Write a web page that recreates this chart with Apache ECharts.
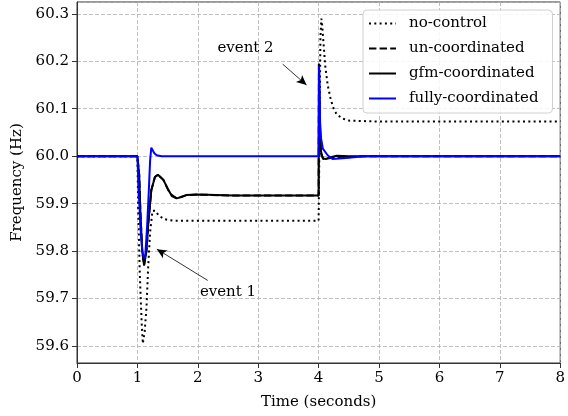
<!DOCTYPE html>
<html>
<head>
<meta charset="utf-8">
<script src="https://cdn.jsdelivr.net/npm/echarts@6/dist/echarts.min.js"></script>
<style>
  html, body { margin: 0; padding: 0; background: #fff; }
  #chart { width: 568px; height: 416px; }
</style>
</head>
<body>
<div id="chart"></div>
<script>
// time (s), frequency (Hz)
var noControl = [
  [0, 60], [1.0, 60], [1.013, 59.89], [1.04, 59.75], [1.07, 59.65], [1.09, 59.605],
  [1.12, 59.63], [1.15, 59.68], [1.18, 59.77], [1.21, 59.84], [1.25, 59.885],
  [1.3, 59.885], [1.35, 59.875], [1.45, 59.867], [1.6, 59.864], [2, 59.864],
  [3, 59.864], [4.0, 59.864], [4.01, 59.98], [4.02, 60.13], [4.03, 60.25],
  [4.045, 60.29], [4.06, 60.275], [4.08, 60.24], [4.11, 60.19], [4.15, 60.15],
  [4.2, 60.12], [4.25, 60.1], [4.3, 60.088], [4.4, 60.079], [4.5, 60.075],
  [5, 60.073], [8, 60.073]
]
var unCoordinated = [
  [0, 60], [1.0, 60], [1.03, 59.96], [1.05, 59.88], [1.08, 59.8], [1.11, 59.77],
  [1.125, 59.766], [1.15, 59.8], [1.18, 59.858], [1.23, 59.928], [1.29, 59.956],
  [1.34, 59.961], [1.43, 59.95], [1.54, 59.921], [1.65, 59.911], [1.81, 59.918],
  [2.0, 59.919], [2.6, 59.917], [4.0, 59.917], [4.005, 60.195], [4.02, 60.06],
  [4.04, 60.005], [4.08, 59.994], [4.2, 59.996], [4.4, 59.997], [4.6, 59.999],
  [4.8, 60], [8, 60]
]
var gfmCoordinated = [
  [0, 60], [1.0, 60], [1.03, 59.96], [1.05, 59.88], [1.08, 59.8], [1.11, 59.77],
  [1.125, 59.766], [1.15, 59.8], [1.18, 59.858], [1.23, 59.928], [1.29, 59.956],
  [1.34, 59.961], [1.43, 59.95], [1.5, 59.932], [1.57, 59.916], [1.65, 59.911],
  [1.73, 59.914], [1.81, 59.918], [2.0, 59.919], [2.6, 59.917], [4.0, 59.917],
  [4.005, 60.195], [4.02, 60.07], [4.04, 60.01], [4.07, 59.995], [4.12, 59.994],
  [4.2, 59.998], [4.3, 60.001], [4.5, 60], [8, 60]
]
var fullyCoordinated = [
  [0, 60], [1.0, 60], [1.02, 59.93], [1.05, 59.85], [1.08, 59.8], [1.11, 59.785],
  [1.13, 59.79], [1.16, 59.85], [1.19, 59.93], [1.21, 59.99], [1.23, 60.018],
  [1.25, 60.015], [1.28, 60.006], [1.32, 60.002], [1.4, 60], [4.0, 60],
  [4.008, 60.19], [4.025, 60.07], [4.04, 60.038], [4.07, 60.016], [4.15, 60.002],
  [4.23, 59.994], [4.45, 59.996], [4.75, 60], [8, 60]
]
var xTicks = [0, 1, 2, 3, 4, 5, 6, 7, 8]
var yRange = [59.564, 60.325]

// annotations: [label, text position, arrow start, arrow tip]
var events = [
  ['event 1', [2.5, 59.713], [2.165, 59.738], [1.322, 59.804]],
  ['event 2', [2.79, 60.228], [3.405, 60.194], [3.8, 60.15]]
]

var serif = 'DejaVu Serif'
var chart = echarts.init(document.getElementById('chart'))

function lineSeries(name, data, color, type, z) {
  return {
    name: name,
    type: 'line',
    data: data,
    symbol: 'none',
    z: z,
    lineStyle: { color: color, width: 2, type: type },
    itemStyle: { color: color },
    animation: false
  }
}

var series = [
  lineSeries('no-control', noControl, '#000', [2, 3.3], 2),
  lineSeries('un-coordinated', unCoordinated, '#000', [7.4, 3.2], 3),
  lineSeries('gfm-coordinated', gfmCoordinated, '#000', 'solid', 4),
  lineSeries('fully-coordinated', fullyCoordinated, '#0000ff', 'solid', 5)
]

series[0].markLine = {
  silent: true,
  symbol: ['none', 'arrow'],
  symbolSize: [7, 10],
  label: { show: false },
  lineStyle: { color: '#000', width: 0.8, type: 'solid' },
  data: events.map(function (e) {
    return [{ coord: e[2] }, { coord: e[3] }]
  })
}
series[0].markPoint = {
  silent: true,
  symbol: 'circle',
  symbolSize: 0,
  label: {
    show: true, position: 'inside', color: '#000',
    fontFamily: serif, fontSize: 15,
    formatter: function (p) { return p.name }
  },
  data: events.map(function (e) {
    return { name: e[0], coord: e[1] }
  })
}

chart.setOption({
  animation: false,
  grid: {
    left: 77, right: 7, top: 2, bottom: 53,
    show: true, borderColor: '#333', borderWidth: 1
  },
  legend: {
    orient: 'vertical',
    left: 363, top: 10,
    padding: [6, 14, 7, 5],
    itemWidth: 27, itemHeight: 14, itemGap: 10,
    itemStyle: { opacity: 0 },
    backgroundColor: 'rgba(255,255,255,0.85)',
    borderColor: '#d0d0d0', borderWidth: 1, borderRadius: 4,
    textStyle: { fontFamily: serif, fontSize: 15, color: '#000', padding: [0, 0, 0, 8] },
    data: ['no-control', 'un-coordinated', 'gfm-coordinated', 'fully-coordinated']
  },
  xAxis: {
    type: 'value',
    min: xTicks[0], max: xTicks[xTicks.length - 1], interval: 1,
    name: 'Time (seconds)', nameLocation: 'middle', nameGap: 32,
    nameTextStyle: { fontFamily: serif, fontSize: 15, color: '#000' },
    axisLine: { lineStyle: { color: '#333', width: 1 } },
    axisTick: { show: true, length: 5, lineStyle: { color: '#333' } },
    axisLabel: { fontFamily: serif, fontSize: 15, color: '#000', margin: 8 },
    splitLine: { show: true, lineStyle: { color: '#b0b0b0', width: 0.8, type: [4, 2] } }
  },
  yAxis: {
    type: 'value',
    min: yRange[0], max: yRange[1], splitNumber: 8,
    name: 'Frequency (Hz)', nameLocation: 'middle', nameGap: 52,
    nameTextStyle: { fontFamily: serif, fontSize: 15, color: '#000' },
    axisLine: { show: true, lineStyle: { color: '#333', width: 1 } },
    axisTick: { show: true, length: 5, lineStyle: { color: '#333' } },
    axisLabel: {
      fontFamily: serif, fontSize: 15, color: '#000', margin: 8,
      showMinLabel: false, showMaxLabel: false,
      formatter: function (v) { return v.toFixed(1) }
    },
    splitLine: { show: true, lineStyle: { color: '#b0b0b0', width: 0.8, type: [4, 2] } }
  },
  series: series
})
</script>
</body>
</html>
